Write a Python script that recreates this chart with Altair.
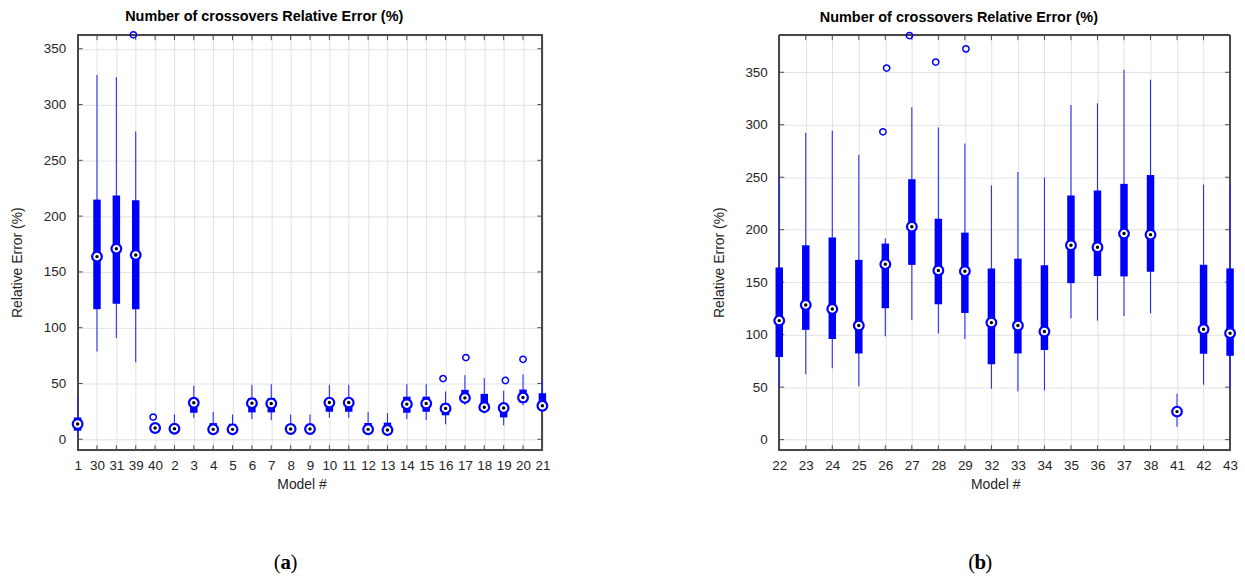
import altair as alt
import pandas as pd

# ---------------- Panel (a) data ----------------
models_a = ["1", "30", "31", "39", "40", "2", "3", "4", "5", "6", "7", "8", "9",
            "10", "11", "12", "13", "14", "15", "16", "17", "18", "19", "20", "21"]
q1_a = [7.7, 116.6, 121.4, 116.6, 8.0, 8.0, 23.8, 7.0, 7.0, 24.1, 24.1, 7.5, 7.5,
        24.7, 24.7, 7.0, 7.0, 23.8, 24.7, 21.5, 34.0, 25.5, 19.6, 33.0, 27.0]
med_a = [13.7, 163.7, 170.8, 165.2, 10.1, 9.5, 32.7, 8.9, 8.9, 32.4, 32.1, 9.2, 9.2,
         32.9, 32.9, 8.9, 8.3, 31.5, 32.1, 27.7, 37.1, 28.8, 28.0, 37.4, 30.0]
q3_a = [19.6, 214.8, 218.4, 214.3, 12.5, 11.5, 34.5, 14.5, 13.9, 37.0, 37.0, 12.5, 12.5,
        35.0, 35.0, 14.6, 14.9, 38.2, 38.2, 32.0, 44.3, 40.7, 31.0, 44.6, 41.3]
lo_a = [3.2, 78.6, 90.7, 69.0, 7.0, 6.5, 19.3, 5.0, 5.5, 18.1, 17.0, 6.0, 6.0,
        19.3, 19.3, 5.5, 5.0, 18.1, 17.2, 13.4, 31.0, 23.2, 12.5, 30.6, 23.9]
hi_a = [38.4, 326.4, 324.4, 275.9, 14.0, 22.3, 47.9, 24.4, 22.3, 48.8, 49.4, 22.3, 22.3,
        48.8, 48.8, 24.7, 23.5, 49.4, 49.4, 42.9, 57.4, 55.0, 43.4, 58.3, 54.1]
out_model_a = ["39", "40", "16", "17", "19", "20"]
out_value_a = [362.5, 19.9, 54.4, 73.2, 52.7, 71.7]
out_jitter_a = [-0.12, -0.10, -0.13, 0.05, 0.09, 0.0]

# ---------------- Panel (b) data ----------------
models_b = ["22", "23", "24", "25", "26", "27", "28", "29", "32", "33", "34",
            "35", "36", "37", "38", "41", "42", "43"]
q1_b = [78.7, 104.6, 95.8, 82.1, 125.2, 166.5, 129.0, 120.7, 71.7, 82.1, 85.3,
        149.1, 155.9, 155.5, 159.9, 24.0, 81.8, 79.9]
med_b = [113.4, 128.3, 124.5, 108.7, 167.2, 202.9, 161.2, 160.5, 111.5, 108.7, 103.0,
         185.2, 183.3, 196.3, 195.3, 26.7, 105.2, 101.4]
q3_b = [164.0, 185.2, 192.5, 171.3, 186.8, 248.1, 210.5, 197.2, 163.1, 172.4, 166.1,
        232.6, 237.3, 243.7, 252.2, 29.0, 166.5, 163.1]
lo_b = [50.2, 62.2, 68.0, 50.8, 98.6, 114.0, 101.1, 95.8, 48.4, 46.1, 46.7,
        115.6, 113.4, 117.8, 120.3, 12.3, 52.2, 49.0]
hi_b = [250.0, 292.3, 294.2, 271.5, 191.8, 316.7, 297.4, 282.2, 242.1, 255.1, 249.7,
        318.9, 320.5, 352.4, 342.9, 43.7, 243.0, 243.3]
out_model_b = ["26", "26", "27", "28", "29"]
out_value_b = [354.0, 293.3, 385.0, 359.7, 372.3]
out_jitter_b = [0.05, -0.09, -0.09, -0.10, 0.04]

y_ticks = [0, 50, 100, 150, 200, 250, 300, 350]
title_text = "Number of crossovers Relative Error (%)"

FONT = "Liberation Sans"
TXT = "#262626"
BLUE = "#0000ff"
FRAME = "#4a4a4a"


def panel(models, q1, med, q3, lo, hi, om, ov, oj, ydom, W, H, xtitle_x, tag_x, tag):
    idx = list(range(len(models)))
    df = pd.DataFrame(dict(i=idx, model=models, q1=q1, med=med, q3=q3, lo=lo, hi=hi))
    dfo = pd.DataFrame(dict(i=[models.index(m) + j for m, j in zip(om, oj)], v=ov))
    dyt = pd.DataFrame(dict(v=y_ticks))
    dxt = pd.DataFrame(dict(i=idx))
    xs = alt.Scale(domain=[0, len(models) - 1], nice=False, zero=False)
    ys = alt.Scale(domain=ydom, nice=False, zero=False)
    label_expr = "[" + ",".join("'%s'" % m for m in models) + "][datum.value]"

    xaxis = alt.Axis(values=idx, labelExpr=label_expr, title="Model #", grid=True,
                     gridColor="#e2e2e2", domain=False, ticks=False, tickSize=0,
                     labelFont=FONT, labelFontSize=13.5, labelColor=TXT, labelPadding=8,
                     labelAngle=0, labelFlush=False,
                     titleFont=FONT, titleFontSize=14, titleFontWeight="normal",
                     titleColor=TXT, titleX=xtitle_x, titleY=38,
                     titleBaseline="alphabetic", titleAlign="center")
    yaxis = alt.Axis(values=y_ticks, title="Relative Error (%)", grid=True,
                     gridColor="#e2e2e2", domain=False, ticks=False, tickSize=0,
                     labelFont=FONT, labelFontSize=13.5, labelColor=TXT, labelPadding=12,
                     labelFlush=False,
                     titleFont=FONT, titleFontSize=14, titleFontWeight="normal",
                     titleColor=TXT, titleX=-60, titleY=228, titleBaseline="middle",
                     titleAlign="center", titleAngle=-90)

    X = lambda f: alt.X(f, scale=xs, axis=xaxis)
    Y = lambda f: alt.Y(f, scale=ys, axis=yaxis)

    base = alt.Chart(df)
    # plot frame (box around the axes, MATLAB style) - drawn first, under the data
    frame_l = base.mark_rule(color=FRAME, strokeWidth=1.2).encode(
        x=alt.value(0), y=alt.value(0), y2=alt.value(H))
    frame_r = base.mark_rule(color=FRAME, strokeWidth=1.2).encode(
        x=alt.value(W), y=alt.value(0), y2=alt.value(H))
    frame_t = base.mark_rule(color=FRAME, strokeWidth=1.2).encode(
        y=alt.value(0), x=alt.value(0), x2=alt.value(W))
    frame_b = base.mark_rule(color=FRAME, strokeWidth=1.2).encode(
        y=alt.value(H), x=alt.value(0), x2=alt.value(W))

    whisk = base.mark_rule(color="#2b2bff", strokeWidth=1.1).encode(
        x=X("i:Q"), y=Y("lo:Q"), y2="hi:Q")
    box = base.mark_rule(color=BLUE, strokeWidth=7.5, strokeCap="butt").encode(
        x=X("i:Q"), y=Y("q1:Q"), y2="q3:Q")
    medc = base.mark_point(shape="circle", filled=True, fill="white", stroke=BLUE,
                           strokeWidth=2.2, size=95, opacity=1).encode(
        x=X("i:Q"), y=Y("med:Q"))
    medd = base.mark_point(shape="circle", filled=True, color="black", size=12,
                           opacity=1).encode(
        x=X("i:Q"), y=Y("med:Q"))
    outl = alt.Chart(dfo).mark_point(shape="circle", filled=False, color=BLUE,
                                     strokeWidth=1.5, size=40, opacity=1).encode(
        x=X("i:Q"), y=Y("v:Q"))
    # inner tick marks (MATLAB style) on all four sides
    ytl = alt.Chart(dyt).mark_rule(color=FRAME, strokeWidth=1).encode(
        y=Y("v:Q"), x=alt.value(0), x2=alt.value(5))
    ytr = alt.Chart(dyt).mark_rule(color=FRAME, strokeWidth=1).encode(
        y=Y("v:Q"), x=alt.value(W - 5), x2=alt.value(W))
    xtb = alt.Chart(dxt).mark_rule(color=FRAME, strokeWidth=1).encode(
        x=X("i:Q"), y=alt.value(H - 5), y2=alt.value(H))
    xtt = alt.Chart(dxt).mark_rule(color=FRAME, strokeWidth=1).encode(
        x=X("i:Q"), y=alt.value(0), y2=alt.value(5))
    # sub-figure tag "(a)" / "(b)"
    tag_df = pd.DataFrame(dict(t=[tag]))
    tag_y = H + 113
    lp = alt.Chart(tag_df).mark_text(text="(", font="Liberation Serif", fontSize=21,
                                     align="right", baseline="middle", dx=-5,
                                     color="black").encode(
        x=alt.value(tag_x), y=alt.value(tag_y))
    lt = alt.Chart(tag_df).mark_text(font="Liberation Serif", fontSize=21,
                                     fontWeight="bold", align="center",
                                     baseline="middle", color="black").encode(
        x=alt.value(tag_x), y=alt.value(tag_y), text="t:N")
    rp = alt.Chart(tag_df).mark_text(text=")", font="Liberation Serif", fontSize=21,
                                     align="left", baseline="middle", dx=5,
                                     color="black").encode(
        x=alt.value(tag_x), y=alt.value(tag_y))

    return alt.layer(whisk.mark_rule(color="#2b2bff", strokeWidth=1.1, opacity=0),
                     frame_l, frame_r, frame_t, frame_b, ytl, ytr, xtb, xtt,
                     whisk, box, medc, medd, outl, lp, lt, rp).properties(
        width=W, height=H,
        title=alt.TitleParams(title_text, font=FONT, fontSize=14.5, fontWeight="bold",
                              color="black", anchor="middle", dx=-46, offset=4))


pa = panel(models_a, q1_a, med_a, q3_a, lo_a, hi_a, out_model_a, out_value_a, out_jitter_a,
           [-9.8, 362.1], 467, 417, 225, 209, "a")
pb = panel(models_b, q1_b, med_b, q3_b, lo_b, hi_b, out_model_b, out_value_b, out_jitter_b,
           [-10.1, 385.3], 453, 417, 217, 202, "b")

chart = alt.hconcat(pa, pb, spacing=238, bounds="flush").properties(
    padding={"left": 10, "top": 7, "right": 5, "bottom": 5}
).configure_view(stroke=None).configure(background="white")

chart.save("out.html", embed_options={"renderer": "svg", "actions": False})
